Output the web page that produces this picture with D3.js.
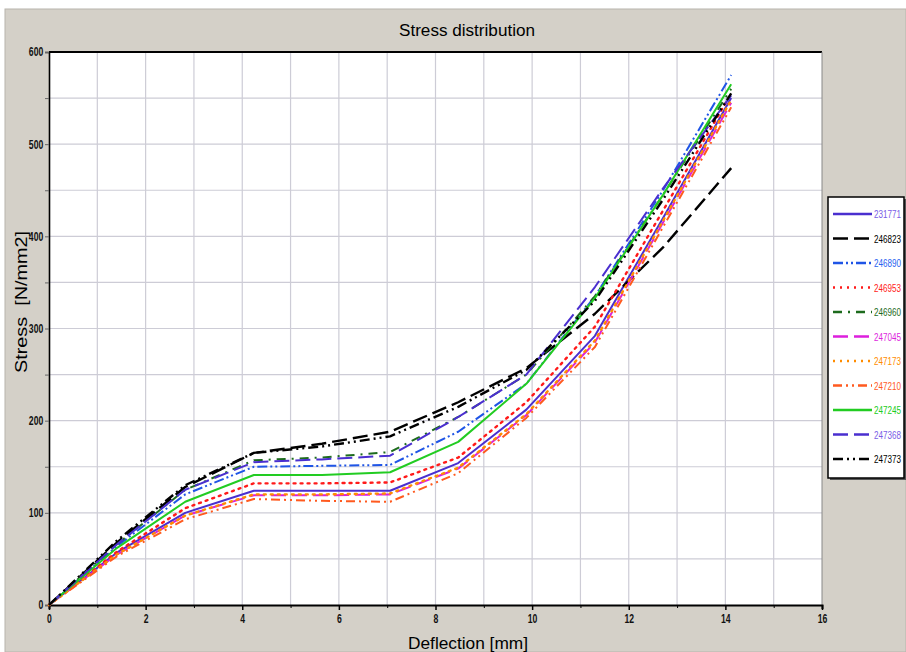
<!DOCTYPE html>
<html><head><meta charset="utf-8">
<script src="https://cdn.jsdelivr.net/npm/d3@7/dist/d3.min.js"></script>
<style>
html,body{margin:0;padding:0;background:#fff;overflow:hidden;}
svg{display:block;}
text{font-family:"Liberation Sans",Arial,sans-serif;}
</style></head>
<body>
<svg id="chart" width="906" height="652"></svg>
<script>
const deflection = [0, 1.41, 2.82, 4.24, 5.65, 7.06, 8.47, 9.88, 11.3, 12.71, 14.12];
const seriesNames = ["231771","246823","246890","246953","246960","247045","247173","247210","247245","247368","247373"];
const s231771 = [0, 57, 100, 124, 124, 124, 154, 212, 292, 420, 550];
const s246823 = [0, 68, 128, 165, 175, 188, 220, 257, 316, 388, 474];
const s246890 = [0, 64, 120, 150, 151, 152, 188, 240, 335, 450, 575];
const s246953 = [0, 58, 105, 132, 132, 133, 160, 220, 302, 428, 555];
const s246960 = [0, 66, 125, 157, 160, 166, 204, 250, 335, 445, 560];
const s247045 = [0, 55, 97, 119, 119, 120, 148, 206, 285, 415, 545];
const s247173 = [0, 55, 97, 120, 120, 121, 149, 207, 287, 417, 548];
const s247210 = [0, 53, 93, 115, 113, 112, 143, 203, 280, 410, 540];
const s247245 = [0, 62, 112, 141, 141, 144, 177, 240, 333, 445, 565];
const s247368 = [0, 66, 125, 155, 158, 162, 204, 250, 345, 452, 553];
const s247373 = [0, 70, 130, 165, 172, 183, 215, 255, 330, 440, 555];
const seriesValues = [s231771, s246823, s246890, s246953, s246960, s247045, s247173, s247210, s247245, s247368, s247373];
const xTicks = [0, 2, 4, 6, 8, 10, 12, 14, 16];
const yTicks = [0, 100, 200, 300, 400, 500, 600];

const styles = [
  {c:"#4a2fcf", t:"#7a5ce6", d:null, w:2},
  {c:"#000000", t:"#000000", d:"15,6", w:2.4},
  {c:"#1f55e6", t:"#2a62f0", d:"10,3,2,3,2,3", w:2},
  {c:"#ff1a1a", t:"#ff1a1a", d:"2,5", w:2.4},
  {c:"#1d6b1d", t:"#1d6b1d", d:"9,6,2,6", w:2},
  {c:"#dd1fdd", t:"#dd1fdd", d:"15,6", w:2},
  {c:"#ff8c00", t:"#ff8c00", d:"2,5", w:2.4},
  {c:"#ff5a1f", t:"#ff5a1f", d:"9,4,2,4,2,4", w:2},
  {c:"#22cc22", t:"#22cc22", d:null, w:2},
  {c:"#4a2fcf", t:"#7a5ce6", d:"15,6", w:2},
  {c:"#000000", t:"#000000", d:"10,4,2,4,2,4", w:2.4}
];

const svg = d3.select("#chart");
svg.append("rect").attr("x",5).attr("y",9).attr("width",901).attr("height",643)
  .attr("fill","#d4d0c8").attr("stroke","#b8b4ac").attr("stroke-width",1);

const x = d3.scaleLinear().domain([0,16]).range([49,822]);
const y = d3.scaleLinear().domain([0,600]).range([605,52]);

svg.append("rect").attr("x",x(0)).attr("y",y(600)).attr("width",x(16)-x(0)).attr("height",y(0)-y(600)).attr("fill","#fff");

const g = svg.append("g");
g.selectAll("line.vg").data(d3.range(1,16)).join("line")
  .attr("x1",d=>x(d)).attr("x2",d=>x(d)).attr("y1",y(0)).attr("y2",y(600))
  .attr("stroke","#cdccd6").attr("stroke-width",1.2);
g.selectAll("line.hg").data(d3.range(50,600,50)).join("line")
  .attr("y1",d=>y(d)).attr("y2",d=>y(d)).attr("x1",x(0)).attr("x2",x(16))
  .attr("stroke","#cdccd6").attr("stroke-width",1.2);

svg.append("line").attr("x1",x(0)).attr("x2",x(16)).attr("y1",y(600)).attr("y2",y(600)).attr("stroke","#000").attr("stroke-width",2.2);
svg.append("line").attr("x1",x(16)).attr("x2",x(16)).attr("y1",y(600)).attr("y2",y(0)).attr("stroke","#888").attr("stroke-width",1);

const tickFont = "'Liberation Sans',Arial";
const xAxis = d3.axisBottom(x).tickValues(d3.range(0,17,1)).tickSize(4)
  .tickFormat(d => xTicks.includes(d) ? d : "");
const xa = svg.append("g").attr("transform",`translate(0,${y(0)})`).call(xAxis);
xa.select(".domain").attr("stroke","#000").attr("stroke-width",2);
xa.selectAll(".tick line").attr("stroke","#000").attr("stroke-width",d=>d%2===0?1.5:1).attr("y2",d=>d%2===0?5:3);
xa.selectAll(".tick text").attr("font-size",12).attr("font-weight","bold").attr("fill","#111")
  .attr("font-family",tickFont).attr("dy","0.9em").attr("transform","scale(0.72,1)");

const yAxis = d3.axisLeft(y).tickValues(d3.range(0,601,50)).tickSize(4)
  .tickFormat(d => yTicks.includes(d) ? d : "");
const ya = svg.append("g").attr("transform",`translate(${x(0)},0)`).call(yAxis);
ya.select(".domain").attr("stroke","#000").attr("stroke-width",1.6);
ya.selectAll(".tick line").attr("stroke","#666").attr("stroke-width",1);
ya.selectAll(".tick text").attr("font-size",12).attr("font-weight","bold").attr("fill","#111")
  .attr("font-family",tickFont).attr("x",-8).attr("transform","scale(0.72,1)");

const line = d3.line().x((d,i)=>x(deflection[i])).y(d=>y(d));
const lg = svg.append("g");
seriesValues.forEach((vals,i)=>{
  const st = styles[i];
  lg.append("path").datum(vals).attr("d",line).attr("fill","none")
    .attr("stroke",st.c).attr("stroke-width",st.w)
    .attr("stroke-dasharray",st.d).attr("stroke-linejoin","round")
    .attr("stroke-linecap", st.d && st.d.startsWith("2,") ? "round" : "butt");
});

svg.append("text").attr("x",467).attr("y",36).attr("text-anchor","middle")
  .attr("font-size",16).attr("fill","#000").attr("textLength",136).attr("lengthAdjust","spacingAndGlyphs")
  .text("Stress distribution");
svg.append("text").attr("x",468).attr("y",649).attr("text-anchor","middle")
  .attr("font-size",16).attr("fill","#000").attr("textLength",120).attr("lengthAdjust","spacingAndGlyphs")
  .text("Deflection [mm]");
svg.append("text").attr("transform","translate(27,302) rotate(-90)").attr("text-anchor","middle")
  .attr("font-size",16).attr("fill","#000").attr("xml:space","preserve")
  .attr("textLength",142).attr("lengthAdjust","spacingAndGlyphs").text("Stress  [N/mm2]");

const leg = svg.append("g");
leg.append("rect").attr("x",830).attr("y",199).attr("width",76).attr("height",281).attr("fill","#555");
leg.append("rect").attr("x",828).attr("y",197).attr("width",76).attr("height",281)
  .attr("fill","#fff").attr("stroke","#000").attr("stroke-width",1.5);
seriesNames.forEach((nm,i)=>{
  const st = styles[i];
  const yy = 214 + i*24.5;
  leg.append("line").attr("x1",833).attr("x2",872).attr("y1",yy).attr("y2",yy)
    .attr("stroke",st.c).attr("stroke-width",st.w+0.3).attr("stroke-dasharray",st.d);
  leg.append("text").attr("x",874).attr("y",yy+4).attr("font-size",10)
    .attr("textLength",27).attr("lengthAdjust","spacingAndGlyphs")
    .attr("fill",st.t).text(nm);
});
</script>
</body></html>
